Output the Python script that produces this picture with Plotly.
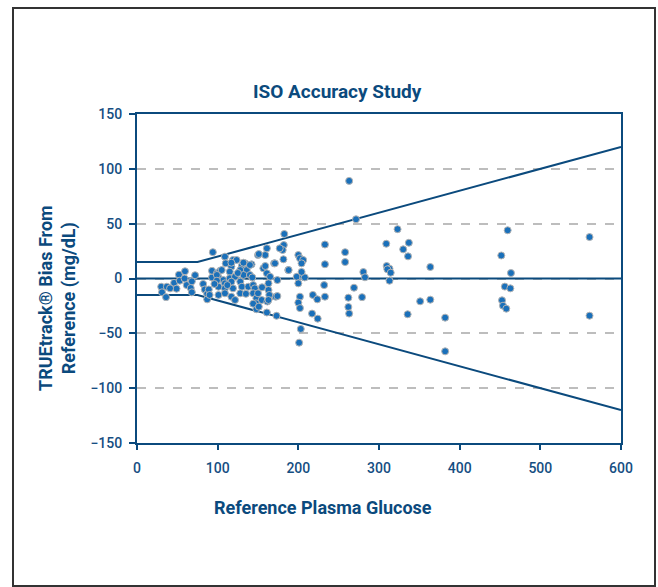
import plotly.graph_objects as go

# Reference plasma glucose (mg/dL) and bias (mg/dL)
glucose = [30, 37, 31, 36, 46, 52, 53, 59.5, 59, 61.6, 68, 66.6, 68, 72, 49, 41,
           82, 84, 87, 87, 89, 90, 94, 93, 93, 99, 103, 101,
           109, 110, 119, 123.5, 130, 134, 142, 136, 128, 117, 115, 105, 99, 107, 115,
           121.5, 132, 140, 128, 117, 109, 99, 101, 109, 119, 130, 138, 144, 146, 101,
           109, 117, 121.5, 128, 144, 148, 154.6, 156.6, 159, 161, 165, 165,
           117, 132, 140, 150, 159, 161, 170, 182, 180.6, 181.5, 187.5, 163, 163, 164,
           161.6, 147.5, 148, 161, 173, 182.6, 151, 177, 172, 174, 174, 150, 144, 151,
           163, 125, 143, 155, 112, 135, 96,
           263, 271.5, 233, 233, 258, 258, 200, 202, 206, 204, 198, 200, 206, 208, 204,
           188, 171, 202, 200, 202, 203, 201, 218, 223.5, 217, 224, 232, 233, 262, 262,
           263, 269, 323, 459.5, 561, 309, 330, 337, 336, 451.6, 309.5, 313, 310.4,
           314.5, 313, 363.6, 463.6, 280.6, 282.6, 279, 351, 363.6, 335.5, 382, 382,
           456, 462.8, 452.5, 453.7, 457.8, 561]
bias = [-7.5, -7.5, -12.6, -17, -4, 3.5, -2, 6.6, 0, -6, -2.6, -8.7, -12.6, 3, -9.3, -9,
        -5, -10, -14, -19, -10, -15, 24, 1, 7, 4.7, 7, 1,
        19.9, 13.8, 16.9, 16.9, 11.4, 13.8, 12.9, 7.7, 7.7, 10.8, 6.2, 7.7, 3.2, -1.4, 0.2,
        1.6, 3.2, 3.2, -2.9, -2.9, -4.4, -2, -7.5, -9, -9, -7.5, -7.5, -6, -9, -15,
        -13.5, -16.6, -19.6, -13.5, -13.5, -18, -19.6, 9.3, 11.4, 4.7, 1.6, -16.6,
        14.4, 14.4, 12.3, 21.4, 21.4, 27.5, 13.8, 30.5, 26, 17.5, 7.7, -4.4, -10.5, -15,
        -21, -22.6, -28, -31, -34, 40.6, 22.3, 27.5, -16.6, -1.4, -16, -13.5, -23, -25.7,
        -19.6, 5, 1, -8, -6, -14, -5,
        89, 54, 31, 13, 24, 15, 21.4, 18.4, 16.9, 13.8, 1.6, -4.4, 1.6, 1, 6,
        7.7, 13.8, -16.6, -22, -27, -46, -58.5, -15, -19, -32, -36.6, -6, -16.6, -17.5, -26,
        -32, -8.4, 45, 44, 37.8, 31.7, 26.6, 32.6, 20.2, 21, 11.4, 9, 8.4,
        5.3, -2, 10.5, 5, 5.9, 1.1, -17, -20.8, -19.3, -32.6, -35.7, -66.4,
        -7.4, -9, -19.9, -24.8, -27.5, -33.9]

# ISO 15197 acceptance limits: +/-15 mg/dL below 75, +/-20% above
limit_x = [0, 75, 600]
limit_upper = [15, 15, 120]
limit_lower = [-15, -15, -120]
zero_x = [0, 600]
zero_y = [0, 0]

y_ticks = [-150, -100, -50, 0, 50, 100, 150]
x_ticks = [0, 100, 200, 300, 400, 500, 600]

NAVY = "#0b4a7d"
TXT = "#154e82"
FONT = "Roboto"

L, T = 137, 114
W, H = 658, 587
PW, PH = 484, 329

fig = go.Figure()
fig.add_trace(go.Scatter(x=zero_x, y=zero_y, mode="lines",
                         line=dict(color=NAVY, width=2), hoverinfo="skip"))
fig.add_trace(go.Scatter(x=limit_x, y=limit_upper, mode="lines",
                         line=dict(color=NAVY, width=2), hoverinfo="skip"))
fig.add_trace(go.Scatter(x=limit_x, y=limit_lower, mode="lines",
                         line=dict(color=NAVY, width=2), hoverinfo="skip"))
fig.add_trace(go.Scatter(x=glucose, y=bias, mode="markers",
                         marker=dict(color="#1a70ba", size=7,
                                     line=dict(color="#b4b4b4", width=1))))

fig.update_layout(
    width=W, height=H,
    margin=dict(l=L, r=W - L - PW, t=T, b=H - T - PH, pad=0),
    paper_bgcolor="white", plot_bgcolor="white",
    showlegend=False,
    font=dict(family=FONT, color=TXT),
)
fig.update_xaxes(range=[0, 600], tickvals=x_ticks, showgrid=False, zeroline=False,
                 showline=True, mirror=True, linecolor=NAVY, linewidth=2,
                 ticks="outside", ticklen=5, tickwidth=2, tickcolor=NAVY,
                 tickfont=dict(family=FONT, size=14, color=TXT, weight=500),
                 ticklabelstandoff=6)
fig.update_yaxes(range=[-150, 150], tickvals=y_ticks, showgrid=True,
                 gridcolor="#bdbdbd", griddash="dash", gridwidth=1.5, zeroline=False,
                 showline=True, mirror=True, linecolor=NAVY, linewidth=2,
                 ticks="outside", ticklen=6, tickwidth=2, tickcolor=NAVY,
                 tickfont=dict(family=FONT, size=14, color=TXT, weight=500),
                 ticklabelstandoff=4)

def px_x(px):
    return (px - L) / PW

def px_y(py):
    return (T + PH - py) / PH

fig.add_annotation(text="ISO Accuracy Study", xref="paper", yref="paper",
                   x=px_x(337.5), y=px_y(91), xanchor="center", yanchor="middle",
                   showarrow=False, font=dict(family=FONT, size=19, color=NAVY, weight="bold"))
fig.add_annotation(text="Reference Plasma Glucose", xref="paper", yref="paper",
                   x=px_x(323), y=px_y(507), xanchor="center", yanchor="middle",
                   showarrow=False, font=dict(family=FONT, size=18, color=NAVY, weight="bold"))
fig.add_annotation(text="TRUEtrack® Bias From<br>Reference (mg/dL)", xref="paper", yref="paper",
                   x=px_x(57), y=px_y(298), xanchor="center", yanchor="middle",
                   textangle=-90, showarrow=False,
                   font=dict(family=FONT, size=18, color=NAVY, weight="bold"))

fig.add_shape(type="rect", xref="paper", yref="paper",
              x0=px_x(13), x1=px_x(655), y0=px_y(586), y1=px_y(8),
              line=dict(color="#333333", width=2), layer="above")

fig.write_html("out.html", config={"displayModeBar": False},
               post_script="document.body.style.margin='0';document.body.style.overflow='hidden';")
